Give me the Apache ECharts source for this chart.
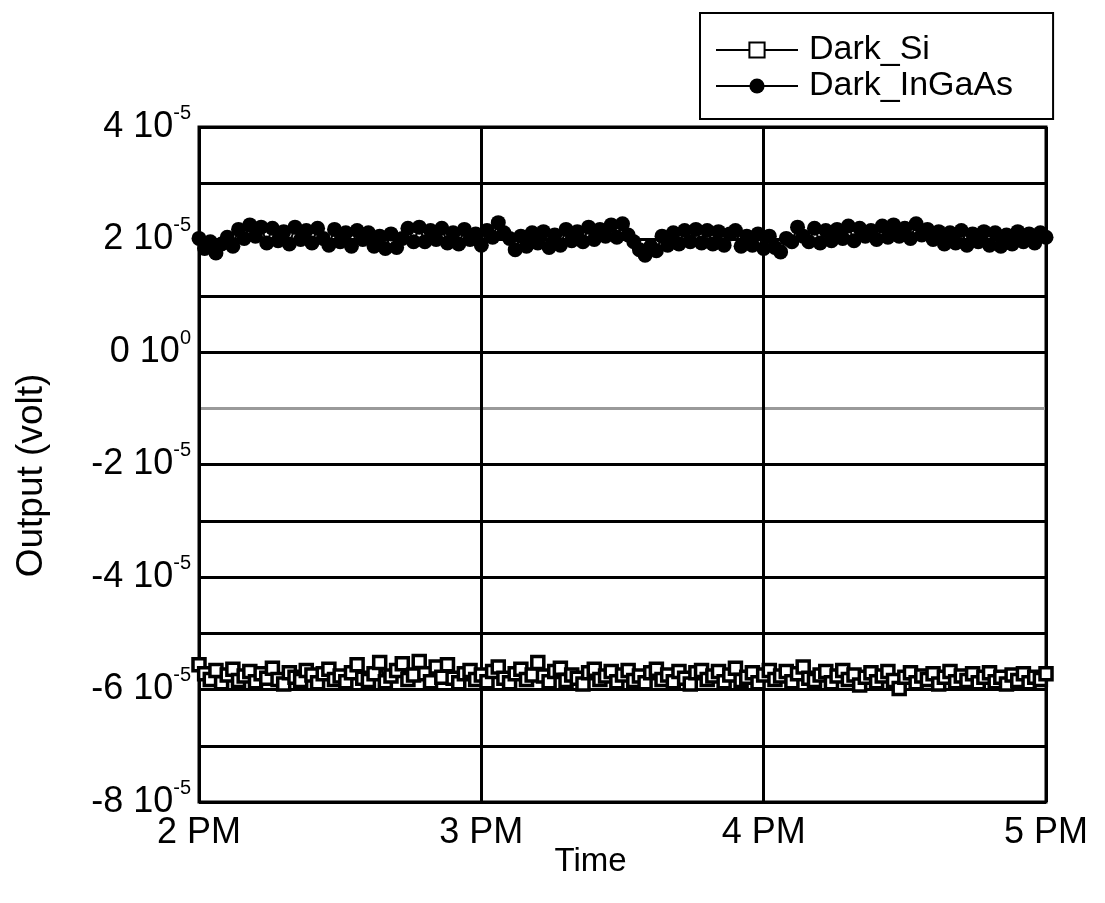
<!DOCTYPE html>
<html>
<head>
<meta charset="utf-8">
<script src="https://cdn.jsdelivr.net/npm/echarts@6/dist/echarts.min.js"></script>
<style>
  html, body { margin: 0; padding: 0; background: #fff; }
  #main { width: 1105px; height: 903px; }
</style>
</head>
<body>
<div id="main"></div>
<script>
// values in units of 1e-5 volt, one sample every 1.2 min from 2 PM
const sampleMinutes = 1.2;
const startHour = 14;

const darkSi = [
  -5.56, -5.72, -5.82, -5.66, -5.88, -5.74, -5.64, -5.84, -5.76, -5.68,
  -5.86, -5.72, -5.80, -5.62, -5.82, -5.90, -5.70, -5.78, -5.84, -5.66,
  -5.74, -5.88, -5.72, -5.64, -5.82, -5.76, -5.86, -5.70, -5.56, -5.80,
  -5.84, -5.72, -5.52, -5.86, -5.76, -5.66, -5.54, -5.82, -5.74, -5.50,
  -5.72, -5.86, -5.60, -5.78, -5.56, -5.80, -5.88, -5.72, -5.66, -5.82,
  -5.74, -5.86, -5.68, -5.60, -5.80, -5.88, -5.72, -5.64, -5.82, -5.74,
  -5.52, -5.76, -5.86, -5.68, -5.62, -5.84, -5.74, -5.80, -5.90, -5.70,
  -5.64, -5.82, -5.76, -5.68, -5.86, -5.74, -5.66, -5.84, -5.76, -5.88,
  -5.70, -5.64, -5.82, -5.74, -5.86, -5.68, -5.80, -5.90, -5.70, -5.66,
  -5.82, -5.76, -5.68, -5.86, -5.74, -5.62, -5.84, -5.78, -5.70, -5.88,
  -5.74, -5.66, -5.82, -5.76, -5.68, -5.86, -5.72, -5.60, -5.80, -5.84,
  -5.74, -5.68, -5.88, -5.76, -5.66, -5.82, -5.74, -5.92, -5.78, -5.70,
  -5.86, -5.76, -5.68, -5.84, -5.98, -5.78, -5.70, -5.88, -5.76, -5.82,
  -5.72, -5.90, -5.78, -5.68, -5.86, -5.76, -5.84, -5.72, -5.88, -5.78,
  -5.70, -5.86, -5.78, -5.90, -5.74, -5.84, -5.72, -5.88, -5.78, -5.82,
  -5.72
];

const darkInGaAs = [
  2.02, 1.84, 1.96, 1.76, 1.92, 2.04, 1.88, 2.18, 2.02, 2.26,
  2.06, 2.22, 1.94, 2.20, 1.98, 2.14, 1.92, 2.22, 2.00, 2.16,
  1.94, 2.20, 2.02, 1.90, 2.18, 1.96, 2.12, 1.88, 2.16, 2.00,
  2.12, 1.88, 2.06, 1.84, 2.10, 1.86, 2.02, 2.20, 1.96, 2.22,
  1.96, 2.16, 2.00, 2.20, 1.94, 2.12, 1.92, 2.18, 2.00, 2.10,
  1.90, 2.16, 2.04, 2.30, 2.12, 2.02, 1.82, 2.06, 1.88, 2.12,
  1.94, 2.14, 1.86, 2.08, 1.90, 2.18, 1.98, 2.14, 1.96, 2.22,
  2.00, 2.18, 2.06, 2.26, 2.04, 2.28, 2.08, 1.96, 1.82, 1.72,
  1.88, 1.80, 2.06, 1.90, 2.12, 1.92, 2.16, 1.96, 2.18, 1.94,
  2.16, 1.92, 2.14, 1.90, 2.10, 2.16, 1.88, 2.06, 1.90, 2.10,
  1.84, 2.06, 1.86, 1.78, 2.02, 1.96, 2.22, 2.06, 1.96, 2.20,
  1.94, 2.16, 1.98, 2.18, 2.02, 2.24, 1.98, 2.20, 2.06, 2.16,
  2.00, 2.24, 2.04, 2.26, 2.06, 2.20, 2.02, 2.28, 2.08, 2.18,
  2.00, 2.14, 1.92, 2.12, 1.94, 2.16, 1.90, 2.10, 1.96, 2.14,
  1.90, 2.12, 1.88, 2.08, 1.92, 2.14, 1.96, 2.10, 1.94, 2.12,
  2.04
];

const hourLabels = { 14: '2 PM', 15: '3 PM', 16: '4 PM', 17: '5 PM' };
const exponentOf = { 4: '-5', 2: '-5', 0: '0', '-2': '-5', '-4': '-5', '-6': '-5', '-8': '-5' };

const toPairs = (vals) => vals.map((v, i) => [startHour + i * sampleMinutes / 60, v]);

const font = 'Liberation Sans, Arial, sans-serif';
const chart = echarts.init(document.getElementById('main'));

// -1e-5 line is drawn thinner/grey in the original
const gridColors = [];
for (let v = -8; v <= 4; v++) gridColors.push(v === -1 ? '#9a9a9a' : '#000');

chart.setOption({
  backgroundColor: '#fff',
  animation: false,
  grid: {
    left: 199, right: 59, top: 127, bottom: 101,
    show: true, borderColor: '#000', borderWidth: 3
  },
  legend: {
    orient: 'vertical',
    left: 700, top: 13,
    padding: [20, 40, 16, 15],
    itemGap: 2,
    itemWidth: 82,
    itemHeight: 19,
    borderColor: '#000',
    borderWidth: 2,
    textStyle: { fontFamily: font, fontSize: 34, lineHeight: 33, color: '#000', padding: [0, 0, 0, 6] },
    data: ['Dark_Si', 'Dark_InGaAs']
  },
  xAxis: {
    type: 'value',
    min: 14, max: 17, interval: 1,
    name: 'Time',
    nameLocation: 'middle',
    nameGap: 43,
    nameMoveOverlap: false,
    nameTextStyle: { fontFamily: font, fontSize: 33, color: '#000', padding: [0, 64, 0, 0] },
    axisLine: { show: false },
    axisTick: { show: false },
    axisLabel: {
      margin: 13,
      fontFamily: font, fontSize: 36, color: '#000',
      formatter: (v) => hourLabels[v] || ''
    },
    splitLine: { show: true, lineStyle: { color: '#000', width: 3 } }
  },
  yAxis: {
    type: 'value',
    min: -8, max: 4, interval: 1,
    name: 'Output (volt)',
    nameLocation: 'middle',
    nameGap: 149,
    nameMoveOverlap: false,
    nameTextStyle: { fontFamily: font, fontSize: 37, color: '#000', padding: [0, 22, 0, 0] },
    axisLine: { show: false },
    axisTick: { show: false },
    axisLabel: {
      margin: 8,
      formatter: (v) => (v % 2 === 0 ? '{b|' + v + ' 10}{s|' + exponentOf[v] + '}' : ''),
      rich: {
        b: { fontFamily: font, fontSize: 36, lineHeight: 48, color: '#000' },
        s: { fontFamily: font, fontSize: 20, lineHeight: 20, verticalAlign: 'top', color: '#000' }
      }
    },
    splitLine: { show: true, lineStyle: { color: gridColors, width: 3 } }
  },
  series: [
    {
      name: 'Dark_Si',
      type: 'line',
      data: toPairs(darkSi),
      symbol: 'rect',
      symbolSize: 12,
      itemStyle: { color: '#fff', borderColor: '#000', borderWidth: 3.5 },
      lineStyle: { color: '#000', width: 2.5 },
      z: 3
    },
    {
      name: 'Dark_InGaAs',
      type: 'line',
      data: toPairs(darkInGaAs),
      symbol: 'circle',
      symbolSize: 15,
      itemStyle: { color: '#000', borderColor: '#000', borderWidth: 0 },
      lineStyle: { color: '#000', width: 2 },
      z: 4
    }
  ]
});
</script>
</body>
</html>
